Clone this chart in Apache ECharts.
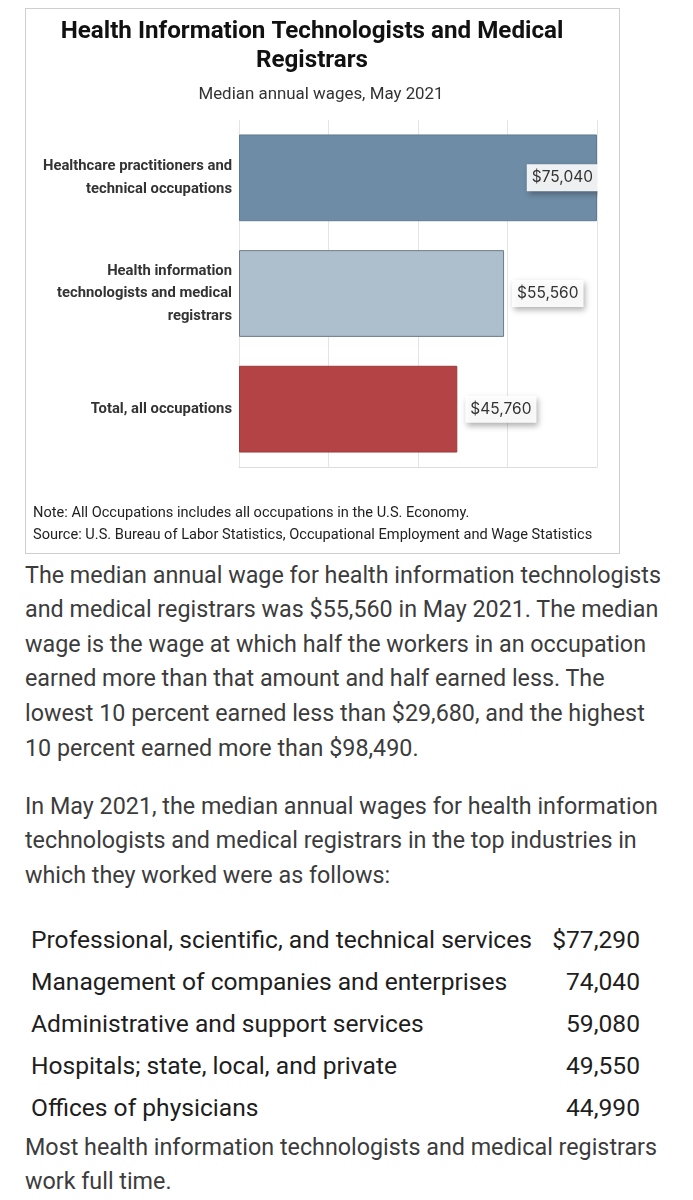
<!DOCTYPE html>
<html>
<head>
<meta charset="utf-8">
<script src="https://cdn.jsdelivr.net/npm/echarts@6/dist/echarts.min.js"></script>
<style>
  html, body { margin: 0; padding: 0; background: #fff; }
  body { width: 693px; height: 1200px; position: relative; overflow: hidden; font-family: Roboto, "Noto Sans", sans-serif; }
  #box { position: absolute; left: 25px; top: 8px; width: 593px; height: 544px; border: 1px solid #cfcfcf; }
  #chart { position: absolute; left: 0px; top: 0px; width: 572px; height: 544px; }
  .para { position: absolute; left: 25px; font-size: 23.3px; line-height: 34.6px; color: #3c3c3c; white-space: nowrap; }
  #tbl { position: absolute; left: 31px; top: 918px; border-collapse: collapse; font-size: 24.6px; color: #1e1e1e; }
  #tbl td { height: 42px; padding: 0; white-space: nowrap; }
  #tbl td.v { text-align: right; width: 100px; }
  #tbl td.l { width: 509px; }
</style>
</head>
<body>
<div id="box"><div id="chart"></div></div>

<div class="para" style="top:557.7px">The median annual wage for health information technologists<br>and medical registrars was $55,560 in May 2021. The median<br>wage is the wage at which half the workers in an occupation<br>earned more than that amount and half earned less. The<br>lowest 10 percent earned less than $29,680, and the highest<br>10 percent earned more than $98,490.</div>

<div class="para" style="top:788.7px">In May 2021, the median annual wages for health information<br>technologists and medical registrars in the top industries in<br>which they worked were as follows:</div>

<table id="tbl"></table>

<div class="para" style="top:1129.7px">Most health information technologists and medical registrars<br>work full time.</div>

<script>
// ---- chart data ----
const categories = [
  'Healthcare practitioners and\ntechnical occupations',
  'Health information\ntechnologists and medical\nregistrars',
  'Total, all occupations'
];
const wages = [75040, 55560, 45760];
const barColors = ['#6f8ca6', '#adbfcc', '#b34345'];
const barBorders = ['#5f7b93', '#6e7b86', '#9b3a3c'];
const labelPositions = ['insideRight', 'right', 'right'];

const chartTitle = 'Health Information Technologists and Medical\nRegistrars';
const chartSubtitle = 'Median annual wages, May 2021';
const noteText = 'Note: All Occupations includes all occupations in the U.S. Economy.\nSource: U.S. Bureau of Labor Statistics, Occupational Employment and Wage Statistics';

// ---- industry table data ----
const industries = [
  'Professional, scientific, and technical services',
  'Management of companies and enterprises',
  'Administrative and support services',
  'Hospitals; state, local, and private',
  'Offices of physicians'
];
const industryWages = ['$77,290', '74,040', '59,080', '49,550', '44,990'];

const tbl = document.getElementById('tbl');
industries.forEach((name, i) => {
  const tr = document.createElement('tr');
  const a = document.createElement('td'); a.className = 'l'; a.textContent = name;
  const b = document.createElement('td'); b.className = 'v'; b.textContent = industryWages[i];
  tr.appendChild(a); tr.appendChild(b); tbl.appendChild(tr);
});

const axisMax = Math.max(...wages);
const chart = echarts.init(document.getElementById('chart'), null, { renderer: 'canvas' });
chart.setOption({
  animation: false,
  title: [
    {
      text: chartTitle, left: 286, top: 8, textAlign: 'center', padding: 0,
      textStyle: { fontFamily: 'Roboto', fontWeight: 'bold', fontSize: 24.2, lineHeight: 29, color: '#111' }
    },
    {
      text: chartSubtitle, left: 295, top: 76, textAlign: 'center', padding: 0,
      textStyle: { fontFamily: 'Roboto', fontWeight: 'normal', fontSize: 16.9, lineHeight: 20, color: '#333' }
    },
    {
      text: noteText, left: 7, top: 493, padding: 0,
      textStyle: { fontFamily: 'Roboto', fontWeight: 'normal', fontSize: 14.6, lineHeight: 22, color: '#222' }
    }
  ],
  grid: { left: 213, top: 111, width: 358, height: 347, containLabel: false },
  xAxis: {
    type: 'value', min: 0, max: axisMax, interval: axisMax / 4,
    axisLabel: { show: false }, axisTick: { show: false },
    axisLine: { show: true, lineStyle: { color: '#dcdcdc', width: 1 } },
    splitLine: { show: true, lineStyle: { color: '#e4e4e4', width: 1 } }
  },
  yAxis: {
    type: 'category', inverse: true, data: categories,
    axisLine: { show: false }, axisTick: { show: false },
    axisLabel: {
      margin: 7, align: 'right', fontFamily: 'Roboto', fontWeight: 'bold',
      fontSize: 14.8, lineHeight: 22.5, color: '#333', padding: [0, 0, 6, 0]
    },
    splitLine: {
      show: true, interval: (i) => i > 0 && i < categories.length,
      lineStyle: { color: '#ffffff', width: 4 }
    }
  },
  series: [{
    type: 'bar',
    barCategoryGap: '25%',
    data: wages.map((v, i) => ({
      value: v,
      itemStyle: { color: barColors[i], borderColor: barBorders[i], borderWidth: 1 },
      label: { position: labelPositions[i], distance: labelPositions[i] === 'right' ? 8 : -1 }
    })),
    label: {
      show: true,
      formatter: (p) => '$' + p.value.toLocaleString('en-US'),
      fontFamily: 'Inter', fontSize: 15.5, color: '#333',
      backgroundColor: 'rgba(255,255,255,0.9)',
      padding: [6, 5, 5, 5],
      shadowBlur: 6, shadowColor: 'rgba(0,0,0,0.35)', shadowOffsetX: 2, shadowOffsetY: 3
    }
  }]
});
</script>
</body>
</html>
